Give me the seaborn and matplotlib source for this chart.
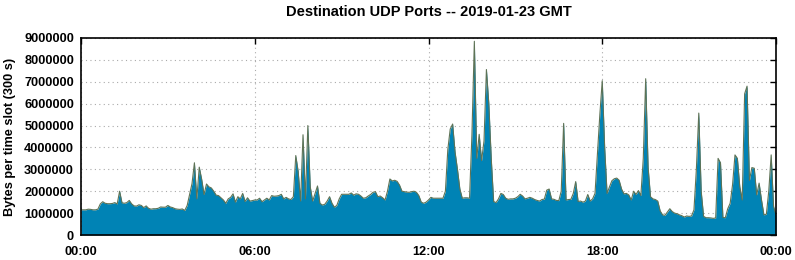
import numpy as np
import pandas as pd
import matplotlib
matplotlib.use("Agg")
import matplotlib.pyplot as plt
import seaborn as sns

title = "Destination UDP Ports -- 2019-01-23 GMT"
ylabel = "Bytes per time slot (300 s)"
xtick_hours = [0, 6, 12, 18, 24]
xtick_labels = ["00:00", "06:00", "12:00", "18:00", "00:00"]
ytick_values = [0, 1000000, 2000000, 3000000, 4000000, 5000000, 6000000, 7000000, 8000000, 9000000]

# Bytes per 5-minute slot, in millions (slot 0 = 00:00 ... slot 288 = 24:00)
bytes_millions = [
    1.15, 1.15, 1.15, 1.18, 1.17, 1.15, 1.15, 1.18,
    1.42, 1.52, 1.45, 1.43, 1.43, 1.44, 1.48, 1.42,
    2.0, 1.47, 1.45, 1.48, 1.58, 1.42, 1.33, 1.32,
    1.38, 1.35, 1.25, 1.33, 1.22, 1.18, 1.2, 1.2,
    1.22, 1.28, 1.27, 1.27, 1.35, 1.28, 1.25, 1.2, 1.18, 1.17,
    1.19, 1.12, 1.35, 1.85, 2.35, 3.3, 1.65, 3.1,
    2.55, 1.85, 2.33, 2.2, 2.15, 2.0, 1.82, 1.8, 1.7, 1.6,
    1.45, 1.65, 1.72, 1.88, 1.5, 1.75, 1.65, 1.9, 1.53, 1.7,
    1.55, 1.57, 1.6, 1.6, 1.68, 1.52, 1.6, 1.68, 1.6, 1.8,
    1.77, 1.78, 1.8, 1.86, 1.65, 1.72, 1.65, 1.62, 1.75, 3.63,
    2.9, 1.55, 4.58, 1.65, 5.0, 2.2, 1.55, 1.9, 2.24, 1.45,
    1.37, 1.4, 1.55, 1.75, 1.45, 1.27, 1.35, 1.65, 1.86, 1.86,
    1.86, 1.86, 1.92, 1.82, 1.88, 1.86, 1.78, 1.68, 1.7, 1.78,
    1.85, 1.95, 1.98, 1.75, 1.78, 1.7, 1.6, 2.0, 2.56, 2.47,
    2.5, 2.45, 2.28, 2.0, 1.98, 1.96, 1.95, 1.98, 2.0, 1.95,
    1.8, 1.5, 1.45, 1.5, 1.6, 1.72, 1.68, 1.68, 1.68, 1.68,
    1.68, 2.0, 3.9, 4.84, 5.07, 3.8, 3.0, 2.1, 1.68, 1.7,
    1.7, 1.68, 4.6, 8.85, 3.5, 4.6, 3.4, 4.3, 7.56, 6.0,
    3.5, 1.53, 1.48, 1.65, 1.9, 1.85, 1.68, 1.63, 1.65, 1.65,
    1.68, 1.75, 1.86, 1.78, 1.65, 1.68, 1.72, 1.68, 1.62, 1.58,
    1.55, 1.62, 1.64, 2.05, 2.1, 1.65, 1.63, 1.58, 1.57, 2.0,
    5.1, 1.6, 1.62, 1.63, 1.9, 2.44, 1.53, 1.55, 1.5, 1.55,
    1.85, 1.55, 1.65, 1.9, 3.7, 5.5, 7.05, 4.0, 1.9, 2.2,
    2.48, 2.57, 2.6, 2.5, 2.1, 1.88, 1.9, 1.83, 1.6, 2.0,
    1.85, 2.03, 1.8, 3.5, 7.14, 3.1, 1.75, 1.65, 1.62, 1.55,
    1.1, 0.92, 0.9, 1.05, 1.2, 1.07, 1.0, 0.97, 0.92, 0.88,
    0.82, 0.87, 0.85, 0.87, 1.15, 3.0, 5.57, 2.0, 0.85, 0.79,
    0.79, 0.78, 0.76, 0.78, 3.5, 3.3, 0.8, 0.79, 1.2, 1.45,
    2.3, 3.66, 3.5, 2.2, 1.6, 6.45, 6.8, 2.5, 3.08, 3.05,
    1.83, 2.37, 1.6, 0.92, 0.95, 2.0, 3.66, 1.3, 0.92,
]

slot_minutes = 5
hours = [i * slot_minutes / 60.0 for i in range(len(bytes_millions))]
df = pd.DataFrame({"hour": hours, "bytes": [v * 1e6 for v in bytes_millions]})

sns.set_style("white")
plt.rcParams["font.family"] = ["Liberation Sans", "DejaVu Sans"]
plt.rcParams["font.weight"] = "bold"
plt.rcParams["text.color"] = "black"
plt.rcParams["axes.labelcolor"] = "black"
plt.rcParams["xtick.color"] = "black"
plt.rcParams["ytick.color"] = "black"

fig = plt.figure(figsize=(7.95, 2.6), dpi=100)
ax = fig.add_axes([81 / 795, 1 - 235 / 260, 695 / 795, 197 / 260])

ax.fill_between(df["hour"], 0, df["bytes"], color="#0083b5", linewidth=0, zorder=2)
sns.lineplot(data=df, x="hour", y="bytes", ax=ax, color="#5e7356", linewidth=0.8, zorder=3)

ax.set_xlim(0, 24)
ax.set_ylim(0, 9000000)
ax.set_xticks(xtick_hours)
ax.set_xticklabels(xtick_labels, fontsize=9.2, fontweight="bold", color="black")
ax.set_yticks(ytick_values)
ax.set_yticklabels([str(v) for v in ytick_values], fontsize=9.2, fontweight="bold", color="black")
ax.set_xlabel("")
ax.set_ylabel(ylabel, fontsize=9.2, fontweight="bold", labelpad=6, color="black")
ax.set_title(title, fontsize=10.5, fontweight="bold", pad=16, color="black")

ax.grid(True, color="#aaaaaa", linestyle=(0, (1, 3)), linewidth=0.8, zorder=1)
ax.set_axisbelow(True)
ax.tick_params(axis="y", which="major", pad=5)
ax.tick_params(axis="x", which="major", pad=8)
ax.tick_params(axis="both", which="major", direction="in", length=4.5, width=1,
               top=True, right=True, color="black")
for s in ax.spines.values():
    s.set_color("black")
    s.set_linewidth(1.2)
    s.set_zorder(5)

fig.savefig("out.png", dpi=100)
